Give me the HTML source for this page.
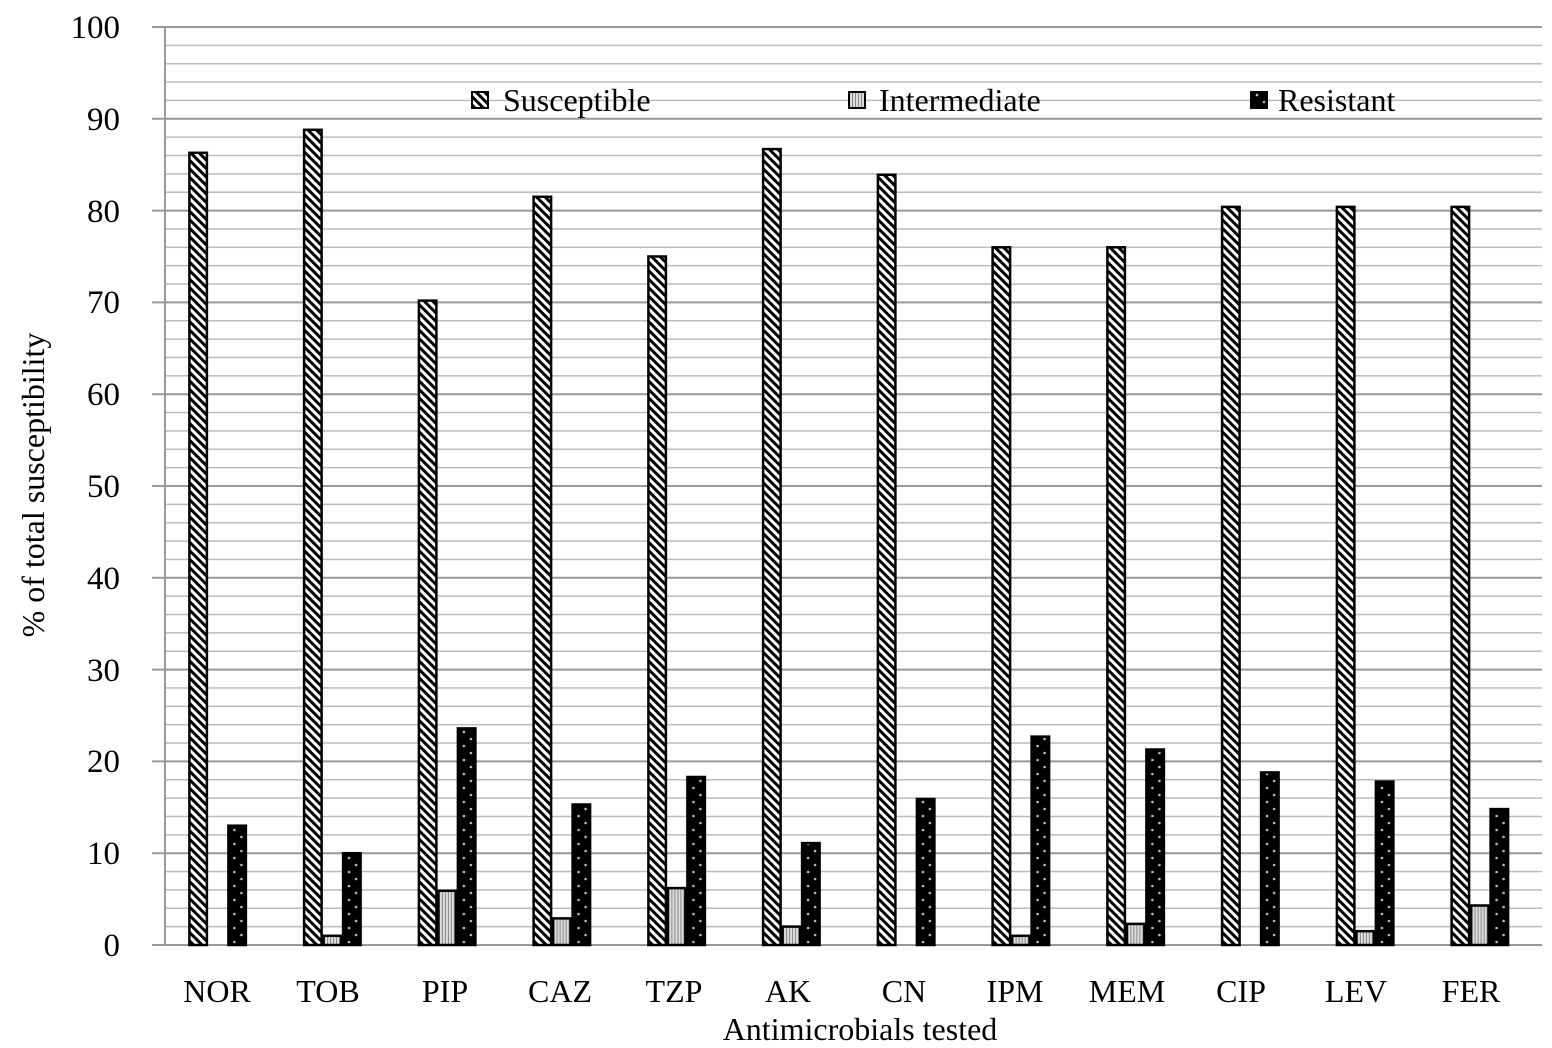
<!DOCTYPE html>
<html><head><meta charset="utf-8"><style>body{margin:0;background:#fff}svg{display:block}</style></head>
<body>
<svg width="1552" height="1048" xmlns="http://www.w3.org/2000/svg" font-family="Liberation Serif, serif">
<defs>
<pattern id="s" patternUnits="userSpaceOnUse" width="6" height="6" patternTransform="rotate(-45)">
<rect width="6" height="6" fill="#fff"/><rect width="3" height="6" fill="#000"/></pattern>
<pattern id="r" patternUnits="userSpaceOnUse" width="14" height="14">
<rect width="14" height="14" fill="#000"/><circle cx="4" cy="4" r="1.3" fill="#bbb"/><circle cx="11" cy="11" r="1.3" fill="#bbb"/></pattern>
<pattern id="i" patternUnits="userSpaceOnUse" width="3" height="3">
<rect width="3" height="3" fill="#ddd"/><rect width="1" height="3" fill="#888"/></pattern>
<pattern id="g" patternUnits="userSpaceOnUse" x="0" y="944.25" width="1600" height="18.36">
<rect width="1600" height="1.5" fill="#bbb"/></pattern>
</defs>
<rect x="165" y="27" width="1377" height="918" fill="url(#g)"/>
<g stroke="#999" stroke-width="2">
<line x1="152" x2="1542" y1="945" y2="945"/>
<line x1="152" x2="1542" y1="853.2" y2="853.2"/>
<line x1="152" x2="1542" y1="761.4" y2="761.4"/>
<line x1="152" x2="1542" y1="669.6" y2="669.6"/>
<line x1="152" x2="1542" y1="577.8" y2="577.8"/>
<line x1="152" x2="1542" y1="486" y2="486"/>
<line x1="152" x2="1542" y1="394.2" y2="394.2"/>
<line x1="152" x2="1542" y1="302.4" y2="302.4"/>
<line x1="152" x2="1542" y1="210.6" y2="210.6"/>
<line x1="152" x2="1542" y1="118.8" y2="118.8"/>
<line x1="152" x2="1542" y1="27" y2="27"/>
<line x1="165" x2="165" y1="27" y2="945"/>
</g>
<g font-size="33" text-anchor="end">
<text x="120" y="956">0</text>
<text x="120" y="864">10</text>
<text x="120" y="772">20</text>
<text x="120" y="681">30</text>
<text x="120" y="589">40</text>
<text x="120" y="497">50</text>
<text x="120" y="405">60</text>
<text x="120" y="313">70</text>
<text x="120" y="222">80</text>
<text x="120" y="130">90</text>
<text x="120" y="38">100</text>
</g>
<g stroke="#000" stroke-width="2.5">
<g transform="translate(188.4,0)"><rect x="1" y="152.8" width="17.5" height="792.2" fill="url(#s)"/><rect x="40" y="825.7" width="17.5" height="119.3" fill="url(#r)"/></g>
<g transform="translate(303.1,0)"><rect x="1" y="129.8" width="17.5" height="815.2" fill="url(#s)"/><rect x="20.5" y="935.8" width="17.5" height="9.2" fill="url(#i)"/><rect x="40" y="853.2" width="17.5" height="91.8" fill="url(#r)"/></g>
<g transform="translate(417.9,0)"><rect x="1" y="300.6" width="17.5" height="644.4" fill="url(#s)"/><rect x="20.5" y="890.8" width="17.5" height="54.2" fill="url(#i)"/><rect x="40" y="728.4" width="17.5" height="216.6" fill="url(#r)"/></g>
<g transform="translate(532.6,0)"><rect x="1" y="196.8" width="17.5" height="748.2" fill="url(#s)"/><rect x="20.5" y="918.4" width="17.5" height="26.6" fill="url(#i)"/><rect x="40" y="804.5" width="17.5" height="140.5" fill="url(#r)"/></g>
<g transform="translate(647.4,0)"><rect x="1" y="256.5" width="17.5" height="688.5" fill="url(#s)"/><rect x="20.5" y="888.1" width="17.5" height="56.9" fill="url(#i)"/><rect x="40" y="777" width="17.5" height="168" fill="url(#r)"/></g>
<g transform="translate(762.1,0)"><rect x="1" y="149.1" width="17.5" height="795.9" fill="url(#s)"/><rect x="20.5" y="926.6" width="17.5" height="18.4" fill="url(#i)"/><rect x="40" y="843.1" width="17.5" height="101.9" fill="url(#r)"/></g>
<g transform="translate(876.9,0)"><rect x="1" y="174.8" width="17.5" height="770.2" fill="url(#s)"/><rect x="40" y="799" width="17.5" height="146" fill="url(#r)"/></g>
<g transform="translate(991.6,0)"><rect x="1" y="247.3" width="17.5" height="697.7" fill="url(#s)"/><rect x="20.5" y="935.8" width="17.5" height="9.2" fill="url(#i)"/><rect x="40" y="736.6" width="17.5" height="208.4" fill="url(#r)"/></g>
<g transform="translate(1106.4,0)"><rect x="1" y="247.3" width="17.5" height="697.7" fill="url(#s)"/><rect x="20.5" y="923.9" width="17.5" height="21.1" fill="url(#i)"/><rect x="40" y="749.5" width="17.5" height="195.5" fill="url(#r)"/></g>
<g transform="translate(1221.1,0)"><rect x="1" y="206.9" width="17.5" height="738.1" fill="url(#s)"/><rect x="40" y="772.4" width="17.5" height="172.6" fill="url(#r)"/></g>
<g transform="translate(1335.9,0)"><rect x="1" y="206.9" width="17.5" height="738.1" fill="url(#s)"/><rect x="20.5" y="931.2" width="17.5" height="13.8" fill="url(#i)"/><rect x="40" y="781.6" width="17.5" height="163.4" fill="url(#r)"/></g>
<g transform="translate(1450.6,0)"><rect x="1" y="206.9" width="17.5" height="738.1" fill="url(#s)"/><rect x="20.5" y="905.5" width="17.5" height="39.5" fill="url(#i)"/><rect x="40" y="809.1" width="17.5" height="135.9" fill="url(#r)"/></g>
</g>
<g font-size="32" text-anchor="middle">
<text x="217" y="1002">NOR</text>
<text x="328" y="1002">TOB</text>
<text x="445" y="1002">PIP</text>
<text x="560" y="1002">CAZ</text>
<text x="674" y="1002">TZP</text>
<text x="788" y="1002">AK</text>
<text x="904" y="1002">CN</text>
<text x="1015" y="1002">IPM</text>
<text x="1127" y="1002">MEM</text>
<text x="1241" y="1002">CIP</text>
<text x="1356" y="1002">LEV</text>
<text x="1471" y="1002">FER</text>
<text x="860" y="1040">Antimicrobials tested</text>
<text transform="translate(44,485) rotate(-90)">% of total susceptibility</text>
</g>
<g stroke="#000" stroke-width="2">
<rect x="472" y="92" width="16" height="16" fill="url(#s)"/>
<rect x="849" y="92" width="16" height="16" fill="url(#i)"/>
<rect x="1251" y="92" width="16" height="16" fill="url(#r)"/>
</g>
<g font-size="32">
<text x="503" y="111">Susceptible</text>
<text x="879" y="111">Intermediate</text>
<text x="1278" y="111">Resistant</text>
</g>
</svg>
</body></html>
